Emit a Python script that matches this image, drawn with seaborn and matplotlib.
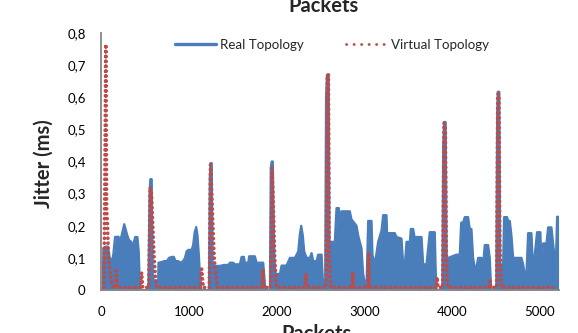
import matplotlib
matplotlib.use("Agg")
import matplotlib.pyplot as plt
from matplotlib.lines import Line2D
import seaborn as sns

# Jitter of the real topology (envelope of the measured trace), per packet index
real_packets = [
    20, 27, 50, 80, 100, 125, 140, 160, 200, 215,
    235, 265, 280, 300, 320, 345, 357, 375, 390, 415,
    430, 440, 450,
    540, 553, 562, 578, 590, 600, 630, 640, 650, 655,
    690, 720, 750, 775, 805, 830, 850, 880, 910, 935,
    957, 975, 995, 1033, 1050, 1068, 1085, 1100, 1115, 1130, 1145,
    1230, 1240, 1248, 1262, 1272, 1280, 1355, 1400, 1450, 1470,
    1507, 1525, 1583, 1602, 1629, 1640, 1678, 1689, 1754, 1773,
    1849, 1862, 1872,
    1925, 1935, 1945, 1958, 1975, 1990, 2001, 2039, 2058, 2115,
    2153, 2190, 2210, 2248, 2265, 2282, 2300, 2316, 2343, 2380,
    2400, 2419, 2457, 2475, 2514, 2527, 2537,
    2555, 2565, 2575, 2595, 2605, 2608, 2665, 2684, 2711, 2722,
    2741, 2836, 2855, 2912, 2931, 2969, 2988, 3015, 3026, 3045,
    3083, 3094, 3121, 3159, 3197, 3216, 3254, 3265, 3280, 3349,
    3368, 3425, 3444, 3463, 3482, 3520, 3531, 3558, 3577, 3596,
    3653, 3672, 3710, 3747, 3804, 3815, 3825,
    3890, 3900, 3910, 3928, 3940, 3956, 4032, 4051, 4089, 4105,
    4127, 4146, 4184, 4203, 4222, 4241, 4260, 4279, 4298, 4336,
    4355, 4374, 4393, 4412, 4431, 4442, 4450,
    4505, 4515, 4522, 4540, 4550, 4564, 4583, 4594, 4628, 4640,
    4659, 4678, 4697, 4735, 4754, 4792, 4811, 4830, 4849, 4868,
    4906, 4925, 4970, 5008, 5020, 5039, 5077, 5096, 5134, 5153,
    5183, 5198, 5215,
]
real_jitter = [
    0, .13, .135, .135, .10, .09, .11, .165, .166, .15,
    .17, .205, .19, .17, .155, .15, .12, .15, .165, .165,
    .12, .04, 0,
    0, .30, .345, .345, .05, .03, .03, 0, 0, .085,
    .087, .09, .09, .10, .103, .103, .09, .09, .085, .09,
    .10, .12, .125, .125, .14, .18, .196, .17, .11, .04, 0,
    0, .35, .395, .395, .08, .075, .075, .078, .078, .085,
    .085, .08, .08, .103, .103, .085, .085, .105, .105, .085,
    .085, .04, 0,
    0, .38, .40, .40, .10, .05, .05, .05, .076, .076,
    .10, .10, .10, .12, .17, .20, .17, .12, .10, .10,
    .115, .09, .09, .11, .11, .04, 0,
    0, .60, .67, .67, .15, .15, .15, .255, .255, .215,
    .245, .245, .22, .20, .17, .13, .05, .01, .01, .215,
    .215, .11, .08, .15, .185, .233, .233, .14, .177, .177,
    .165, .16, .08, .08, .15, .15, .19, .19, .16, .165,
    .165, .08, .08, .18, .18, .06, 0,
    0, .45, .523, .523, .10, .10, .108, .11, .11, .21,
    .21, .227, .227, .19, .19, .10, .07, .07, .10, .10,
    .08, .14, .14, .14, .10, .03, 0,
    0, .55, .617, .617, .08, .08, .08, .227, .227, .215,
    .215, .17, .10, .10, .10, .10, .08, .05, .05, .177,
    .177, .06, .18, .18, .07, .145, .145, .195, .195, .145,
    .07, .228, .228,
]

# Jitter of the virtual topology
virtual_packets = [
    35, 55, 64, 74, 85, 100, 120, 140, 165, 175, 185,
    450, 463, 475,
    545, 560, 575, 590, 605, 620, 635,
    1130, 1147, 1165,
    1235, 1248, 1262, 1275, 1290, 1310, 1330,
    1830, 1845, 1858,
    1935, 1950, 1965, 1980, 1995, 2005,
    2320, 2335, 2350,
    2565, 2580, 2592, 2600, 2610, 2620,
    2860, 2870, 2880,
    3040, 3050, 3060,
    3820, 3830, 3840,
    3895, 3910, 3925, 3935, 3945, 3955,
    4420, 4430, 4440,
    4510, 4522, 4535, 4545, 4555, 4565,
    5200,
]
virtual_jitter = [
    .008, .765, .25, .20, .10, .06, .02, .008, .008, .06, .008,
    .008, .054, .008,
    .008, .32, .30, .20, .10, .04, .008,
    .008, .066, .008,
    .008, .39, .30, .20, .10, .04, .008,
    .008, .065, .008,
    .008, .38, .25, .10, .02, .008,
    .008, .05, .008,
    .008, .67, .67, .12, .05, .008,
    .008, .056, .008,
    .008, .115, .008,
    .008, .04, .008,
    .008, .52, .50, .12, .04, .008,
    .008, .035, .008,
    .008, .61, .61, .15, .05, .008,
    .008,
]

series_labels = ["Real Topology", "Virtual Topology"]
x_ticks = [0, 1000, 2000, 3000, 4000, 5000]
x_tick_labels = ["0", "1000", "2000", "3000", "4000", "5000"]
y_ticks = [0, .1, .2, .3, .4, .5, .6, .7, .8]
y_tick_labels = ["0", "0,1", "0,2", "0,3", "0,4", "0,5", "0,6", "0,7", "0,8"]

BLUE = "#4A7EBB"
RED = "#BE4B48"
AXIS_GREY = "#868686"

sns.set_theme(style="white")
plt.rcParams["font.family"] = ["Lato", "DejaVu Sans"]

fig = plt.figure(figsize=(5.78, 3.33), dpi=100)
ax = fig.add_axes([101 / 578, 1 - 290 / 333, 458 / 578, 257 / 333])

# Real topology: dense trace rendered as a filled envelope
ax.fill_between(real_packets, real_jitter, 0, color=BLUE, linewidth=0)
sns.lineplot(x=real_packets, y=real_jitter, ax=ax, color=BLUE, linewidth=1.6,
             estimator=None, sort=False)

# Virtual topology: round-dotted red trace on top
sns.lineplot(x=virtual_packets, y=virtual_jitter, ax=ax, color=RED,
             linewidth=2.7, estimator=None, sort=False,
             linestyle=(0, (0.01, 1.3)), dash_capstyle="round")

ax.set_xlim(0, 5220)
ax.set_ylim(0, 0.8)
ax.set_xticks(x_ticks)
ax.set_xticklabels(x_tick_labels)
ax.set_yticks(y_ticks)
ax.set_yticklabels(y_tick_labels)
ax.tick_params(axis="both", length=0, labelsize=9.5, colors="#000000")
ax.tick_params(axis="y", pad=11)
ax.tick_params(axis="x", pad=11.5)
ax.set_xlabel("")
ax.set_ylabel("")
ax.grid(False)

for side in ("top", "right"):
    ax.spines[side].set_visible(False)
for side in ("left", "bottom"):
    ax.spines[side].set_color(AXIS_GREY)
    ax.spines[side].set_linewidth(1.3)

handles = [
    Line2D([], [], color=BLUE, linewidth=2.4, solid_capstyle="round"),
    Line2D([], [], color=RED, linewidth=2.0, linestyle=(0, (0.1, 2.6)),
           dash_capstyle="round"),
]
ax.legend(handles, series_labels, ncol=2, loc="center",
          bbox_to_anchor=(332 / 578, 1 - 45 / 333), bbox_transform=fig.transFigure,
          frameon=False, fontsize=9.6, handlelength=3.1, handletextpad=0.3,
          columnspacing=3.1, borderpad=0, borderaxespad=0)

fig.text(323 / 578, 1 - 12 / 333, "Packets", ha="center", va="baseline",
         fontsize=14.5, fontweight="bold")
fig.text(316.5 / 578, 1 - 324 / 333, "Packets", ha="center", va="top",
         fontsize=14.5, fontweight="bold")
fig.text(44 / 578, 1 - 164 / 333, "Jitter (ms)", rotation=90, ha="center",
         va="center", fontsize=14.5, fontweight="bold")

fig.savefig("out.png", dpi=100)
